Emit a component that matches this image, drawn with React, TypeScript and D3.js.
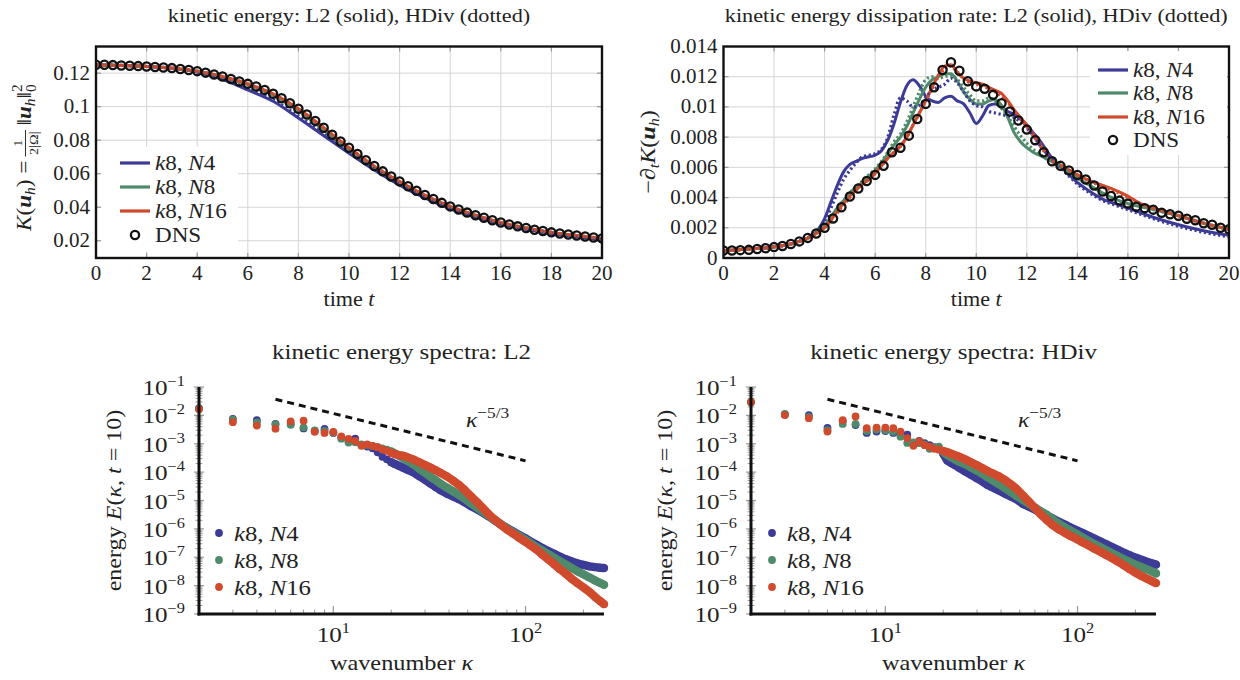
import React from "react";
import * as d3 from "d3";

const SERIF = "'Liberation Serif','DejaVu Serif',serif";
const INK = "#222";
const COLOR_N4 = "#3c3b97";
const COLOR_N8 = "#4f8a6b";
const COLOR_N16 = "#d04a2d";

// ---------- top-left: kinetic energy ----------
const T_K = [0, 1, 2, 3, 4, 5, 6, 7, 8, 9, 10, 11, 12, 13, 14, 15, 16, 17, 18, 19, 20];
const K_L2_N4 = [0.125, 0.1246, 0.124, 0.1229, 0.1207, 0.1163, 0.11, 0.1032, 0.0932, 0.0827, 0.0722, 0.0622, 0.0532, 0.0455, 0.0391, 0.0341, 0.0301, 0.0268, 0.0243, 0.0223, 0.0206];
const K_L2_N8 = [0.125, 0.1246, 0.124, 0.123, 0.1211, 0.1177, 0.1131, 0.1068, 0.0975, 0.0862, 0.0746, 0.0641, 0.0551, 0.047, 0.0404, 0.0351, 0.0308, 0.0276, 0.025, 0.0231, 0.0214];
const K_L2_N16 = [0.125, 0.1246, 0.124, 0.123, 0.1212, 0.118, 0.1136, 0.1077, 0.0988, 0.0875, 0.0755, 0.0645, 0.0553, 0.0472, 0.0405, 0.0352, 0.0309, 0.0276, 0.025, 0.0231, 0.0214];
const K_HDIV_N4 = [0.125, 0.1246, 0.124, 0.1229, 0.1208, 0.1167, 0.1106, 0.104, 0.0945, 0.0838, 0.073, 0.0628, 0.0537, 0.0459, 0.0394, 0.0343, 0.0302, 0.0269, 0.0243, 0.0223, 0.0206];
const K_HDIV_N8 = [0.125, 0.1246, 0.124, 0.123, 0.1211, 0.1177, 0.1131, 0.1067, 0.0972, 0.086, 0.0745, 0.064, 0.055, 0.047, 0.0404, 0.0351, 0.0308, 0.0276, 0.025, 0.0231, 0.0214];
const K_HDIV_N16 = [0.125, 0.1246, 0.124, 0.123, 0.1212, 0.118, 0.1136, 0.1076, 0.0987, 0.0874, 0.0755, 0.0646, 0.0554, 0.0473, 0.0405, 0.0352, 0.0309, 0.0276, 0.025, 0.0231, 0.0214];

const T_DNS = d3.range(0, 61).map((i) => i / 3);
const K_DNS = [
  0.125, 0.125, 0.1248, 0.1246, 0.1244, 0.1242, 0.124, 0.1237, 0.1234, 0.123,
  0.1225, 0.1219, 0.1212, 0.1203, 0.1192, 0.118, 0.1165, 0.115, 0.1136, 0.112,
  0.11, 0.1077, 0.105, 0.102, 0.0988, 0.0953, 0.0915, 0.0874, 0.0832, 0.0792,
  0.0755, 0.0718, 0.0681, 0.0646, 0.0614, 0.0583, 0.0554, 0.0525, 0.0498, 0.0473,
  0.0449, 0.0426, 0.0405, 0.0386, 0.0368, 0.0352, 0.0337, 0.0322, 0.0309, 0.0297,
  0.0286, 0.0276, 0.0266, 0.0258, 0.025, 0.0243, 0.0237, 0.0231, 0.0225, 0.0219, 0.0214,
];

// ---------- top-right: dissipation rate ----------
const T_D = [0, 1, 2, 3, 3.5, 3.75, 4, 4.25, 4.5, 4.75, 5, 5.25, 5.5, 5.75, 6, 6.25, 6.5, 6.75, 7, 7.25, 7.5, 7.75, 8, 8.25, 8.5, 8.75, 9, 9.25, 9.5, 9.75, 10, 10.25, 10.5, 10.75, 11, 11.25, 11.5, 11.75, 12, 12.25, 12.5, 12.75, 13, 13.5, 14, 14.5, 15, 15.5, 16, 16.5, 17, 18, 19, 20];
const D_L2_N4 = [0.00048, 0.0006, 0.00073, 0.0011, 0.0015, 0.0019, 0.0026, 0.0037, 0.0048, 0.0057, 0.0062, 0.0064, 0.0066, 0.0067, 0.0068, 0.0071, 0.0078, 0.0089, 0.0103, 0.0114, 0.0118, 0.0114, 0.0107, 0.0104, 0.0103, 0.0106, 0.0107, 0.0104, 0.0102, 0.0096, 0.0089, 0.0094, 0.0101, 0.0102, 0.01, 0.0097, 0.0095, 0.0092, 0.0088, 0.0083, 0.0078, 0.0072, 0.0066, 0.0058, 0.005, 0.0044, 0.0039, 0.0036, 0.0033, 0.003, 0.0027, 0.0022, 0.0018, 0.0015];
const D_L2_N8 = [0.00048, 0.0006, 0.00073, 0.0011, 0.00145, 0.0018, 0.0021, 0.0027, 0.0033, 0.0038, 0.0043, 0.0047, 0.005, 0.0054, 0.0058, 0.0063, 0.0069, 0.0075, 0.008, 0.0087, 0.0096, 0.0105, 0.0113, 0.0118, 0.012, 0.0122, 0.0122, 0.0117, 0.011, 0.0105, 0.0102, 0.0102, 0.0104, 0.0105, 0.0101, 0.0093, 0.0083, 0.0077, 0.0073, 0.007, 0.0068, 0.0066, 0.0064, 0.0059, 0.0053, 0.0048, 0.0043, 0.0039, 0.0036, 0.0034, 0.0032, 0.0028, 0.0023, 0.0019];
const D_L2_N16 = [0.00048, 0.0006, 0.00073, 0.0011, 0.00145, 0.0017, 0.002, 0.0025, 0.0031, 0.0036, 0.0041, 0.0045, 0.0049, 0.0052, 0.0056, 0.0061, 0.0066, 0.007, 0.0074, 0.008, 0.0088, 0.0096, 0.0104, 0.0113, 0.0121, 0.0127, 0.0128, 0.0123, 0.0119, 0.0117, 0.0116, 0.0115, 0.0113, 0.0111, 0.0109, 0.0104, 0.0098, 0.0093, 0.0088, 0.0082, 0.0076, 0.007, 0.0065, 0.006, 0.0055, 0.0051, 0.0048, 0.0045, 0.0041, 0.0036, 0.0033, 0.0028, 0.0023, 0.0019];
const D_HDIV_N4 = [0.00048, 0.0006, 0.00073, 0.0011, 0.0015, 0.0018, 0.0024, 0.0033, 0.0043, 0.0052, 0.0058, 0.0063, 0.0067, 0.0068, 0.0069, 0.0072, 0.008, 0.0095, 0.0106, 0.0104, 0.01, 0.0101, 0.0106, 0.0111, 0.0113, 0.0115, 0.0119, 0.0116, 0.011, 0.0104, 0.0101, 0.01, 0.0097, 0.0096, 0.0095, 0.0094, 0.0093, 0.009, 0.0086, 0.0081, 0.0075, 0.007, 0.0065, 0.0057, 0.0049, 0.0043, 0.0038, 0.0035, 0.0032, 0.0029, 0.0026, 0.0021, 0.0017, 0.0014];
const D_HDIV_N8 = [0.00048, 0.0006, 0.00073, 0.0011, 0.00145, 0.0018, 0.0021, 0.0027, 0.0033, 0.0038, 0.0043, 0.0047, 0.0051, 0.0055, 0.0059, 0.0064, 0.007, 0.0077, 0.0082, 0.009, 0.01, 0.011, 0.0118, 0.012, 0.0119, 0.012, 0.0121, 0.0118, 0.0113, 0.0108, 0.0104, 0.0104, 0.0106, 0.0104, 0.0099, 0.0094, 0.0087, 0.0081, 0.0076, 0.0072, 0.0069, 0.0066, 0.0064, 0.0059, 0.0053, 0.0048, 0.0043, 0.0039, 0.0036, 0.0034, 0.0032, 0.0028, 0.0023, 0.0019];
const D_HDIV_N16 = [0.00048, 0.0006, 0.00073, 0.0011, 0.00145, 0.0017, 0.002, 0.0025, 0.003, 0.0035, 0.004, 0.0045, 0.0049, 0.0052, 0.0056, 0.0061, 0.0066, 0.007, 0.0074, 0.008, 0.0088, 0.0096, 0.0104, 0.0112, 0.012, 0.0125, 0.0127, 0.0123, 0.0119, 0.0116, 0.0115, 0.0114, 0.0112, 0.011, 0.0107, 0.0103, 0.0097, 0.0092, 0.0087, 0.0081, 0.0075, 0.0069, 0.0064, 0.006, 0.0055, 0.0051, 0.0047, 0.0044, 0.004, 0.0036, 0.0033, 0.0028, 0.0023, 0.0019];
const D_DNS = [
  0.0005, 0.0005, 0.00052, 0.00054, 0.0006, 0.00065, 0.00072, 0.0008, 0.00093, 0.0011,
  0.00133, 0.00162, 0.002, 0.00262, 0.00336, 0.00407, 0.0046, 0.0051, 0.0055, 0.0061,
  0.007, 0.0073, 0.0081, 0.0092, 0.0102, 0.0113, 0.01244, 0.01296, 0.0124, 0.0117,
  0.01136, 0.0112, 0.0108, 0.01024, 0.0097, 0.0091, 0.0085, 0.0078, 0.007, 0.0064,
  0.0061, 0.0058, 0.0055, 0.0052, 0.0048, 0.0044, 0.0041, 0.0038, 0.0036, 0.0034,
  0.0033, 0.0032, 0.003, 0.0029, 0.0028, 0.0026, 0.0025, 0.0023, 0.0022, 0.002, 0.0019,
];

const T_TICKS = [0, 2, 4, 6, 8, 10, 12, 14, 16, 18, 20];
const K_TICKS = [0.02, 0.04, 0.06, 0.08, 0.1, 0.12];
const D_TICKS = [0, 0.002, 0.004, 0.006, 0.008, 0.01, 0.012, 0.014];

// ---------- bottom: spectra at t = 10 (values are log10 E) ----------
const KAPPA = [2, 3, 4, 5, 6, 7, 8, 9, 10, 11, 12, 13, 14, 15, 16, 17, 18, 19, 20, 21, 22, 23, 24, 26, 28, 30, 32, 34, 36, 39, 42, 45, 48, 52, 56, 60, 64, 69, 74, 80, 86, 92, 99, 106, 114, 122, 131, 141, 151, 162, 174, 187, 200, 215, 230, 245, 256];
const LOGE_L2_N4 = [-1.75, -2.12, -2.17, -2.3, -2.3, -2.46, -2.55, -2.48, -2.62, -2.78, -2.92, -2.82, -3.04, -3.1, -3.16, -3.3, -3.46, -3.55, -3.65, -3.72, -3.78, -3.84, -3.9, -4.0, -4.14, -4.27, -4.4, -4.52, -4.63, -4.76, -4.86, -4.95, -5.05, -5.2, -5.31, -5.43, -5.55, -5.7, -5.84, -5.97, -6.09, -6.2, -6.32, -6.44, -6.56, -6.67, -6.78, -6.88, -6.98, -7.07, -7.15, -7.22, -7.27, -7.32, -7.35, -7.37, -7.38];
const LOGE_L2_N8 = [-1.75, -2.15, -2.25, -2.32, -2.33, -2.42, -2.53, -2.55, -2.6, -2.82, -2.96, -2.95, -3.02, -3.05, -3.08, -3.12, -3.16, -3.21, -3.27, -3.35, -3.42, -3.5, -3.58, -3.72, -3.88, -4.02, -4.16, -4.28, -4.4, -4.55, -4.68, -4.8, -4.92, -5.1, -5.25, -5.39, -5.52, -5.68, -5.82, -5.98, -6.12, -6.24, -6.37, -6.5, -6.64, -6.76, -6.89, -7.02, -7.14, -7.26, -7.38, -7.5, -7.6, -7.71, -7.82, -7.91, -7.97];
const LOGE_L2_N16 = [-1.78, -2.24, -2.36, -2.47, -2.21, -2.19, -2.58, -2.62, -2.58, -2.74, -2.83, -2.9, -3.07, -3.02, -3.08, -3.12, -3.2, -3.25, -3.32, -3.37, -3.4, -3.42, -3.46, -3.55, -3.65, -3.75, -3.84, -3.93, -4.02, -4.15, -4.3, -4.45, -4.62, -4.85, -5.06, -5.27, -5.47, -5.67, -5.84, -6.02, -6.16, -6.3, -6.44, -6.58, -6.73, -6.9, -7.07, -7.25, -7.42, -7.58, -7.76, -7.92, -8.06, -8.22, -8.4, -8.55, -8.65];
const LOGE_HDIV_N4 = [-1.53, -1.97, -1.99, -2.44, -2.2, -2.34, -2.62, -2.57, -2.55, -2.62, -2.7, -2.68, -2.98, -2.9, -2.98, -3.05, -3.12, -3.2, -3.35, -3.59, -3.68, -3.75, -3.83, -3.97, -4.1, -4.22, -4.33, -4.45, -4.53, -4.65, -4.76, -4.86, -4.95, -5.12, -5.22, -5.32, -5.42, -5.53, -5.63, -5.75, -5.85, -5.95, -6.05, -6.14, -6.24, -6.34, -6.44, -6.54, -6.64, -6.74, -6.84, -6.93, -7.01, -7.09, -7.16, -7.22, -7.26];
const LOGE_HDIV_N8 = [-1.53, -1.95, -2.05, -2.52, -2.3, -2.3, -2.55, -2.5, -2.52, -2.58, -2.75, -2.97, -2.95, -2.98, -3.02, -3.18, -3.15, -3.1, -3.28, -3.4, -3.48, -3.55, -3.62, -3.72, -3.84, -3.95, -4.06, -4.18, -4.28, -4.42, -4.57, -4.7, -4.83, -4.98, -5.12, -5.25, -5.37, -5.5, -5.66, -5.82, -5.95, -6.06, -6.18, -6.3, -6.42, -6.53, -6.64, -6.75, -6.86, -6.96, -7.07, -7.17, -7.26, -7.35, -7.43, -7.51, -7.57];
const LOGE_HDIV_N16 = [-1.53, -1.99, -2.1, -2.57, -2.17, -2.04, -2.45, -2.43, -2.43, -2.45, -2.57, -2.8, -3.07, -2.92, -3.05, -3.1, -3.18, -3.2, -3.25, -3.3, -3.35, -3.4, -3.45, -3.55, -3.66, -3.76, -3.86, -3.96, -4.04, -4.15, -4.28, -4.43, -4.58, -4.82, -5.05, -5.27, -5.47, -5.68, -5.86, -6.02, -6.14, -6.25, -6.36, -6.47, -6.58, -6.69, -6.8, -6.92, -7.03, -7.15, -7.28, -7.42, -7.54, -7.66, -7.76, -7.85, -7.91];

const SLOPE_KAPPA = [5, 100];
const SLOPE_E = [3.7e-2, 2.5e-4];
const SLOPE_LABEL_AT = [49, 3.9e-3];

const E_MAJOR = [-9, -8, -7, -6, -5, -4, -3, -2, -1];
const KAPPA_MAJOR = [1, 2];

const MODEL_NAMES = ["4", "8", "16"];
const MODEL_COLORS = [COLOR_N4, COLOR_N8, COLOR_N16];

// ---------- text helper (horizontally widened serif, like the TeX original) ----------
function T(props: {
  x: number;
  y: number;
  size: number;
  sx?: number;
  rot?: number;
  anchor?: "start" | "middle" | "end";
  children: React.ReactNode;
}) {
  const { x, y, size, sx = 1.1, rot = 0, anchor = "start", children } = props;
  return (
    <text
      transform={`translate(${x},${y}) rotate(${rot}) scale(${sx},1)`}
      textAnchor={anchor}
      fontFamily={SERIF}
      fontSize={size}
      fill={INK}
    >
      {children}
    </text>
  );
}

function ModelText({ n }: { n: string }) {
  return (
    <>
      <tspan fontStyle="italic">k</tspan>
      {"8, "}
      <tspan fontStyle="italic">N</tspan>
      {n}
    </>
  );
}

type Box = { l: number; r: number; t: number; b: number };

function TopPanel(props: {
  box: Box;
  yDomain: [number, number];
  yTicks: number[];
  solid: number[][];
  dotted: number[][];
  tLine: number[];
  dnsV: number[];
  title: string;
  legend: { x: number; y: number; w: number; h: number; lineX: number; rowY: number[] };
  id: string;
}) {
  const { box, yDomain, yTicks, solid, dotted, tLine, dnsV, title, legend, id } = props;
  const x = d3.scaleLinear().domain([0, 20]).range([box.l, box.r]);
  const y = d3.scaleLinear().domain(yDomain).range([box.b, box.t]);
  const line = d3
    .line<number>()
    .x((_, i) => x(tLine[i]))
    .y((d) => y(d))
    .curve(d3.curveMonotoneX);
  const fmt = d3.format("~g");
  const tickGray = "#9a9a9a";
  return (
    <g>
      <defs>
        <clipPath id={id}>
          <rect x={box.l} y={box.t} width={box.r - box.l} height={box.b - box.t} />
        </clipPath>
      </defs>
      {T_TICKS.map((t) => (
        <line key={"gx" + t} x1={x(t)} x2={x(t)} y1={box.t} y2={box.b} stroke="#d6d6d6" strokeWidth={1} />
      ))}
      {yTicks.map((v) => (
        <line key={"gy" + v} x1={box.l} x2={box.r} y1={y(v)} y2={y(v)} stroke="#d6d6d6" strokeWidth={1} />
      ))}
      {T_TICKS.map((t) => (
        <g key={"tx" + t}>
          <line x1={x(t)} x2={x(t)} y1={box.b} y2={box.b - 5} stroke={tickGray} strokeWidth={1.2} />
          <line x1={x(t)} x2={x(t)} y1={box.t} y2={box.t + 5} stroke={tickGray} strokeWidth={1.2} />
        </g>
      ))}
      {yTicks.map((v) => (
        <g key={"ty" + v}>
          <line x1={box.l} x2={box.l + 5} y1={y(v)} y2={y(v)} stroke={tickGray} strokeWidth={1.2} />
          <line x1={box.r} x2={box.r - 5} y1={y(v)} y2={y(v)} stroke={tickGray} strokeWidth={1.2} />
        </g>
      ))}
      <rect x={legend.x} y={legend.y} width={legend.w} height={legend.h} fill="#fff" />
      <g clipPath={`url(#${id})`}>
        {solid.map((s, i) => (
          <path key={"s" + i} d={line(s) || ""} fill="none" stroke={MODEL_COLORS[i]} strokeWidth={3} />
        ))}
        {dotted.map((s, i) => (
          <path
            key={"d" + i}
            d={line(s) || ""}
            fill="none"
            stroke={MODEL_COLORS[i]}
            strokeWidth={3.2}
            strokeDasharray="2.2 2.6"
          />
        ))}
        {dnsV.map((v, i) => (
          <circle key={"c" + i} cx={x(T_DNS[i])} cy={y(v)} r={4.1} fill="none" stroke="#111" strokeWidth={2.3} />
        ))}
      </g>
      <rect x={box.l} y={box.t} width={box.r - box.l} height={box.b - box.t} fill="none" stroke="#111" strokeWidth={2.4} />
      {MODEL_NAMES.map((n, i) => (
        <g key={"lg" + n}>
          <line
            x1={legend.lineX}
            x2={legend.lineX + 30}
            y1={legend.rowY[i]}
            y2={legend.rowY[i]}
            stroke={MODEL_COLORS[i]}
            strokeWidth={3.2}
          />
          <T x={legend.lineX + 35} y={legend.rowY[i] + 7} size={21} sx={1.1}>
            <ModelText n={n} />
          </T>
        </g>
      ))}
      <circle cx={legend.lineX + 15} cy={legend.rowY[3]} r={4.1} fill="none" stroke="#111" strokeWidth={2.3} />
      <T x={legend.lineX + 35} y={legend.rowY[3] + 7} size={21} sx={1.1}>
        DNS
      </T>
      {T_TICKS.map((t) => (
        <T key={"lx" + t} x={x(t)} y={box.b + 22} size={20} sx={1.05} anchor="middle">
          {t}
        </T>
      ))}
      {yTicks.map((v) => (
        <T key={"ly" + v} x={box.l - 6} y={y(v) + 6.5} size={20} sx={1.05} anchor="end">
          {fmt(v)}
        </T>
      ))}
      <T x={(box.l + box.r) / 2} y={box.b + 48} size={20.5} sx={1.08} anchor="middle">
        {"time "}
        <tspan fontStyle="italic">t</tspan>
      </T>
      <T x={(box.l + box.r) / 2} y={22} size={19.5} sx={1.14} anchor="middle">
        {title}
      </T>
    </g>
  );
}

function SpectrumPanel(props: {
  xl: number;
  xr: number;
  yt: number;
  yb: number;
  series: number[][];
  title: string;
  tickRight: number;
  labelX: number;
  legendX: number;
}) {
  const { xl, xr, yt, yb, series, title, tickRight, labelX, legendX } = props;
  const x = d3.scaleLog().domain([2, 256]).range([xl, xr]);
  const y = d3.scaleLog().domain([1e-9, 1e-1]).range([yb, yt]);
  const gray = "#9a9a9a";
  const yMinor: number[] = [];
  E_MAJOR.slice(0, -1).forEach((p) => {
    for (let m = 2; m <= 9; m++) yMinor.push(m * Math.pow(10, p));
  });
  const xMinor = [3, 4, 5, 6, 7, 8, 9, 20, 30, 40, 50, 60, 70, 80, 90, 200];
  const slope = d3
    .line<number>()
    .x((_, i) => x(SLOPE_KAPPA[i]))
    .y((d) => y(d));
  const cy = (E: number) => y(Math.pow(10, E));
  // dense tail: points overlap into a band, drawn as a round-capped stroke through them
  const band = d3
    .line<number>()
    .defined((_, i) => KAPPA[i] >= 20)
    .x((_, i) => x(KAPPA[i]))
    .y((d) => cy(d));
  const FS = 21.5;
  const SX = 1.17;
  return (
    <g>
      <T x={(xl + xr) / 2} y={359} size={21.5} sx={1.16} anchor="middle">
        {title}
      </T>
      {yMinor.map((v, i) => (
        <line key={"ym" + i} x1={xl - 3.5} x2={xl + 3.5} y1={y(v)} y2={y(v)} stroke={gray} strokeWidth={1} />
      ))}
      {E_MAJOR.map((p) => (
        <line key={"yM" + p} x1={xl - 5} x2={xl + 5} y1={y(Math.pow(10, p))} y2={y(Math.pow(10, p))} stroke={gray} strokeWidth={1.2} />
      ))}
      {xMinor.map((k) => (
        <line key={"xm" + k} x1={x(k)} x2={x(k)} y1={yb} y2={yb - 4.5} stroke={gray} strokeWidth={1} />
      ))}
      {KAPPA_MAJOR.map((p) => (
        <line key={"xM" + p} x1={x(Math.pow(10, p))} x2={x(Math.pow(10, p))} y1={yb} y2={yb - 8} stroke={gray} strokeWidth={1.2} />
      ))}
      {series.map((s, si) => (
        <g key={"ser" + si} fill={MODEL_COLORS[si]}>
          <path
            d={band(s) || ""}
            fill="none"
            stroke={MODEL_COLORS[si]}
            strokeWidth={8.4}
            strokeLinecap="round"
            strokeLinejoin="round"
          />
          {s.map((E, i) => (
            <circle key={i} cx={x(KAPPA[i])} cy={cy(E)} r={3.9} />
          ))}
        </g>
      ))}
      <path d={slope(SLOPE_E) || ""} fill="none" stroke="#111" strokeWidth={3} strokeDasharray="7 5" />
      <T x={x(SLOPE_LABEL_AT[0])} y={y(SLOPE_LABEL_AT[1])} size={21} sx={1.12}>
        <tspan fontStyle="italic">κ</tspan>
        <tspan dy={-9} fontSize={15.5}>
          −5/3
        </tspan>
      </T>
      <line x1={xl} x2={xl} y1={yt} y2={yb + 1.5} stroke="#111" strokeWidth={3} />
      <line x1={xl - 1.5} x2={xr} y1={yb} y2={yb} stroke="#111" strokeWidth={3} />
      {E_MAJOR.map((p) => (
        <T key={"el" + p} x={tickRight} y={y(Math.pow(10, p)) + 8} size={FS} sx={SX} anchor="end">
          10
          <tspan dy={-9} fontSize={14}>
            {"−" + Math.abs(p)}
          </tspan>
        </T>
      ))}
      {KAPPA_MAJOR.map((p) => (
        <T key={"kl" + p} x={x(Math.pow(10, p))} y={yb + 28} size={FS} sx={SX} anchor="middle">
          10
          <tspan dy={-9} fontSize={14}>
            {p}
          </tspan>
        </T>
      ))}
      <T x={(xl + xr) / 2} y={670} size={21.5} sx={1.13} anchor="middle">
        {"wavenumber "}
        <tspan fontStyle="italic">κ</tspan>
      </T>
      <T x={labelX} y={(yt + yb) / 2} rot={-90} size={21.5} sx={1.12} anchor="middle">
        {"energy "}
        <tspan fontStyle="italic">E</tspan>
        {"("}
        <tspan fontStyle="italic">κ</tspan>
        {", "}
        <tspan fontStyle="italic">t</tspan>
        {" = 10)"}
      </T>
      {MODEL_NAMES.map((n, i) => (
        <g key={"sl" + n}>
          <circle cx={legendX} cy={533 + i * 27} r={3.9} fill={MODEL_COLORS[i]} />
          <T x={legendX + 15} y={541 + i * 27} size={21.5} sx={1.15}>
            <ModelText n={n} />
          </T>
        </g>
      ))}
    </g>
  );
}

export default function App() {
  const boxK: Box = { l: 96, r: 602, t: 46.5, b: 258 };
  const boxD: Box = { l: 723.5, r: 1229, t: 46.5, b: 258 };
  return (
    <svg width={1240} height={680} style={{ position: "absolute", left: 0, top: 0, background: "#fff" }}>
      <TopPanel
        id="clipK"
        box={boxK}
        yDomain={[0.0097, 0.1359]}
        yTicks={K_TICKS}
        solid={[K_L2_N4, K_L2_N8, K_L2_N16]}
        dotted={[K_HDIV_N4, K_HDIV_N8, K_HDIV_N16]}
        tLine={T_K}
        dnsV={K_DNS}
        title="kinetic energy: L2 (solid), HDiv (dotted)"
        legend={{ x: 101, y: 147, w: 137, h: 104, lineX: 120, rowY: [163, 187, 211, 235] }}
      />
      <TopPanel
        id="clipD"
        box={boxD}
        yDomain={[0, 0.014]}
        yTicks={D_TICKS}
        solid={[D_L2_N4, D_L2_N8, D_L2_N16]}
        dotted={[D_HDIV_N4, D_HDIV_N8, D_HDIV_N16]}
        tLine={T_D}
        dnsV={D_DNS}
        title="kinetic energy dissipation rate: L2 (solid), HDiv (dotted)"
        legend={{ x: 1090, y: 51, w: 137, h: 104, lineX: 1098, rowY: [70, 93, 117, 140] }}
      />
      {/* y label top-left: K(u_h) = 1/(2|Ω|) ||u_h||_0^2 */}
      <g transform="translate(31,152) rotate(-90) scale(1.1,1)" fontFamily={SERIF} fill={INK}>
        <text x={-8} y={0} textAnchor="end" fontSize={21}>
          <tspan fontStyle="italic">K</tspan>
          {"("}
          <tspan fontStyle="italic" fontWeight="bold">u</tspan>
          <tspan dy={4} fontSize={14} fontStyle="italic">h</tspan>
          <tspan dy={-4}>{") ="}</tspan>
        </text>
        <line x1={-4} x2={20} y1={-5.5} y2={-5.5} stroke={INK} strokeWidth={0.9} />
        <text x={8} y={-9} textAnchor="middle" fontSize={13}>1</text>
        <text x={8} y={7} textAnchor="middle" fontSize={13}>2|Ω|</text>
        <text x={24} y={0} fontSize={21}>
          {"‖"}
          <tspan fontStyle="italic" fontWeight="bold">u</tspan>
          <tspan dy={4} fontSize={14} fontStyle="italic">h</tspan>
          <tspan dy={-4}>{"‖"}</tspan>
          <tspan dy={5} fontSize={14}>0</tspan>
          <tspan dx={-7} dy={-14} fontSize={14}>2</tspan>
        </text>
      </g>
      {/* y label top-right */}
      <T x={655} y={152} rot={-90} size={21} sx={1.15} anchor="middle">
        {"−∂"}
        <tspan dy={4} fontSize={14} fontStyle="italic">t</tspan>
        <tspan dy={-4} fontStyle="italic">K</tspan>
        {"("}
        <tspan fontStyle="italic" fontWeight="bold">u</tspan>
        <tspan dy={4} fontSize={14} fontStyle="italic">h</tspan>
        <tspan dy={-4}>{")"}</tspan>
      </T>
      <SpectrumPanel
        xl={199}
        xr={604}
        yt={387}
        yb={614}
        series={[LOGE_L2_N4, LOGE_L2_N8, LOGE_L2_N16]}
        title="kinetic energy spectra: L2"
        tickRight={185}
        labelX={121}
        legendX={219}
      />
      <SpectrumPanel
        xl={751}
        xr={1156}
        yt={387}
        yb={614}
        series={[LOGE_HDIV_N4, LOGE_HDIV_N8, LOGE_HDIV_N16]}
        title="kinetic energy spectra: HDiv"
        tickRight={737}
        labelX={672}
        legendX={772}
      />
    </svg>
  );
}
